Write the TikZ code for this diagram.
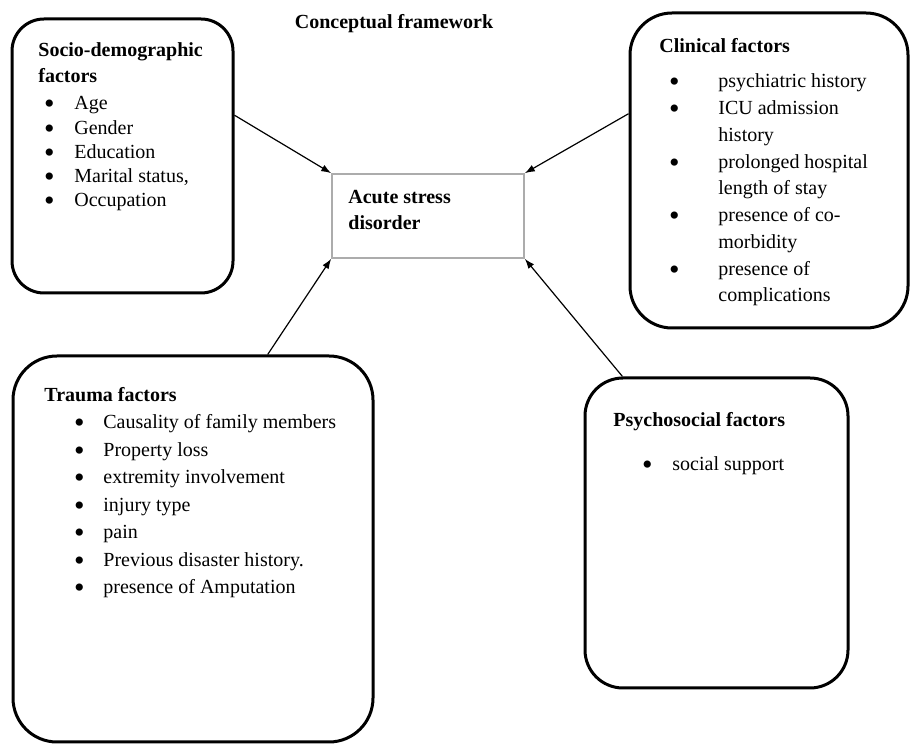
\documentclass[tikz,border=0pt]{standalone}
\usepackage{fontspec}
\setmainfont{Liberation Serif}
\usetikzlibrary{arrows.meta}

\newcommand{\bul}{\makebox[0pt]{\smash{\raisebox{-2pt}{\fontsize{15}{15}\selectfont\textbullet}}}}

\tikzset{
  factorbox/.style={draw, line width=1.5pt, rounded corners=#1, inner sep=0pt},
  outcome/.style={draw=gray!65, line width=0.8pt, minimum width=96pt, minimum height=42pt, inner sep=0pt},
  boxhead/.style={anchor=base west, inner sep=0pt, font=\fontsize{10}{13}\selectfont\bfseries},
  itemlist/.style={anchor=base west, inner sep=0pt, font=\fontsize{10}{#1}\selectfont},
  link/.style={-{Latex[length=5pt,width=3.6pt]}, line width=0.6pt}
}

\begin{document}
\begin{tikzpicture}[x=0.5pt, y=0.5pt]
    \useasboundingbox (0,0) rectangle (910,744);

    % Titre
    \node[anchor=base, inner sep=0pt, font=\fontsize{10}{13}\selectfont\bfseries] (title) at (394,715) {Conceptual framework};

    % Cadres
    \node[factorbox=16pt, minimum width=110.5pt, minimum height=137pt] (socio) at (122.5,588) {};
    \node[factorbox=21pt, minimum width=139pt, minimum height=157.5pt] (clinical) at (769,573.5) {};
    \node[factorbox=22pt, minimum width=180pt, minimum height=193pt] (trauma) at (193,195) {};
    \node[factorbox=19pt, minimum width=131.5pt, minimum height=155pt] (psycho) at (716.5,211) {};
    \node[outcome] (asd) at (428,528) {};

    % Textes (listes placées au centre des puces)
    \node[boxhead] (sociohead) at (38,687) {\begin{tabular}[t]{@{}l@{}}Socio-demographic\\factors\end{tabular}};
    \node[itemlist=12.125] (socilist) at (49,634) {\begin{tabular}[t]{@{}p{12.5pt}@{}l@{}}
        \bul & Age\\
        \bul & Gender\\
        \bul & Education\\
        \bul & Marital status,\\
        \bul & Occupation
    \end{tabular}};

    \node[boxhead] (clinhead) at (659,691) {Clinical factors};
    \node[itemlist=13.375] (clinlist) at (674,656) {\begin{tabular}[t]{@{}p{22pt}@{}l@{}}
        \bul & psychiatric history\\
        \bul & ICU admission\\
             & history\\
        \bul & prolonged hospital\\
             & length of stay\\
        \bul & presence of co-\\
             & morbidity\\
        \bul & presence of\\
             & complications
    \end{tabular}};

    \node[boxhead] (asdtext) at (348,540) {\begin{tabular}[t]{@{}l@{}}Acute stress\\disorder\end{tabular}};

    \node[boxhead] (traumahead) at (44,342) {Trauma factors};
    \node[itemlist=13.75] (traumalist) at (79,315) {\begin{tabular}[t]{@{}p{12pt}@{}l@{}}
        \bul & Causality of family members\\
        \bul & Property loss\\
        \bul & extremity involvement\\
        \bul & injury type\\
        \bul & pain\\
        \bul & Previous disaster history.\\
        \bul & presence of Amputation
    \end{tabular}};

    \node[boxhead] (psychohead) at (613,317) {Psychosocial factors};
    \node[itemlist=13] (psycholist) at (647,273) {\begin{tabular}[t]{@{}p{12.5pt}@{}l@{}}
        \bul & social support
    \end{tabular}};

    % Flèches vers le trouble
    \draw[link] (socio.20) -- (asd.north west);
    \draw[link] (clinical.158) -- (asd.north east);
    \draw[link] (trauma.69) -- (asd.south west);
    \draw[link] (psycho.121) -- (asd.south east);
\end{tikzpicture}
\end{document}
